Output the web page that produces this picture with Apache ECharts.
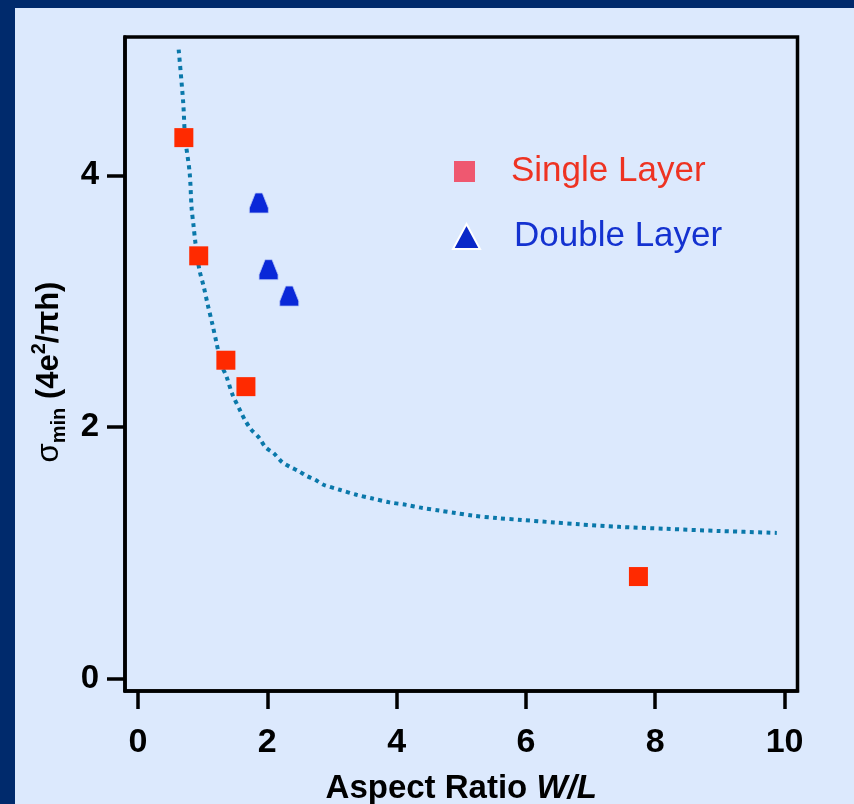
<!DOCTYPE html>
<html><head><meta charset="utf-8">
<script src="https://cdn.jsdelivr.net/npm/echarts@6/dist/echarts.min.js"></script>
<style>html,body{margin:0;padding:0;background:#dce9fd;} #c{width:854px;height:804px;}</style>
</head><body><div id="c"></div>
<script>
const singleX = [0.71, 0.94, 1.36, 1.67, 7.74];
const singleY = [4.30, 3.36, 2.53, 2.32, 0.81];
const doubleX = [1.87, 2.02, 2.34];
const doubleY = [3.78, 3.25, 3.04];
const fitX = [0.63,0.70,0.73,0.80,0.83,0.86,0.89,0.95,1.02,1.08,1.15,1.21,1.27,1.31,1.37,1.46,1.59,1.66,1.75,1.88,1.97,2.10,2.23,2.36,2.48,2.61,2.74,2.87,3.12,3.38,3.63,3.89,4.15,4.40,4.66,4.91,5.17,5.55,5.93,6.44,6.83,7.45,8.15,9.00,9.88];
const fitY = [5.00,4.58,4.30,4.02,3.74,3.60,3.46,3.25,3.11,2.97,2.82,2.68,2.54,2.47,2.40,2.26,2.12,2.05,1.98,1.91,1.84,1.79,1.72,1.68,1.65,1.61,1.58,1.54,1.50,1.46,1.43,1.40,1.38,1.355,1.335,1.315,1.295,1.275,1.26,1.24,1.225,1.205,1.19,1.172,1.157];
const xTicks = [0, 2, 4, 6, 8, 10];
const yTicks = [0, 2, 4];
const singleName = 'Single Layer';
const doubleName = 'Double Layer';

const FF = '"Liberation Sans", Arial, sans-serif';
const zip = (a, b) => a.map((v, i) => [v, b[i]]);
const chart = echarts.init(document.getElementById('c'), null, {renderer: 'canvas'});
chart.setOption({
  backgroundColor: '#dce9fd',
  animation: false,
  graphic: [
    {type: 'rect', left: 0, top: 0, shape: {width: 854, height: 8}, style: {fill: '#002a6c'}, silent: true},
    {type: 'rect', left: 0, top: 0, shape: {width: 15, height: 804}, style: {fill: '#002a6c'}, silent: true}
  ],
  grid: {left: 125, right: 56.5, top: 37, bottom: 113, outerBoundsMode: 'none', containLabel: false,
         show: true, borderColor: '#000', borderWidth: 3.5, backgroundColor: 'transparent'},
  xAxis: {
    type: 'value', min: -0.2, max: 10.2,
    axisLine: {show: true, onZero: false, lineStyle: {color: '#000', width: 3.5}},
    axisTick: {show: true, customValues: xTicks, length: 18, lineStyle: {color: '#000', width: 3.5}},
    axisLabel: {customValues: xTicks, margin: 35, fontSize: 34, fontWeight: 'bold', color: '#000', fontFamily: FF},
    splitLine: {show: false},
    name: '{b|Aspect Ratio }{i|W/L}', nameLocation: 'middle', nameGap: 81,
    nameTextStyle: {rich: {
      b: {fontSize: 33, fontWeight: 'bold', color: '#000', fontFamily: FF},
      i: {fontSize: 33, fontWeight: 'bold', fontStyle: 'italic', color: '#000', fontFamily: FF}
    }}
  },
  yAxis: {
    type: 'value', min: -0.1, max: 5.1,
    axisLine: {show: true, onZero: false, lineStyle: {color: '#000', width: 3.5}},
    axisTick: {show: true, customValues: yTicks, length: 18, lineStyle: {color: '#000', width: 3.5}},
    axisLabel: {customValues: yTicks, margin: 26, fontSize: 33, fontWeight: 'bold', color: '#000', fontFamily: FF},
    splitLine: {show: false},
    name: '{s|σ}{sub|min}{b| (4e}{sup|2}{b|/πh)}', nameLocation: 'middle', nameGap: 35,
    nameTextStyle: {padding: [0, 16, 0, 0], rich: {
      s: {fontSize: 31, color: '#000', fontFamily: FF, lineHeight: 40, verticalAlign: 'middle'},
      sub: {fontSize: 20, fontWeight: 'bold', color: '#000', fontFamily: FF, lineHeight: 20, verticalAlign: 'bottom'},
      b: {fontSize: 31, fontWeight: 'bold', color: '#000', fontFamily: FF, lineHeight: 40, verticalAlign: 'middle'},
      sup: {fontSize: 20, fontWeight: 'bold', color: '#000', fontFamily: FF, lineHeight: 20, verticalAlign: 'top'}
    }}
  },
  legend: [
    {data: [{name: singleName, icon: 'rect', itemStyle: {color: '#ef5870'}, textStyle: {color: '#ee3322'}}],
     left: 454, top: 154, orient: 'vertical', padding: 0, itemWidth: 21, itemHeight: 21, selectedMode: false,
     textStyle: {fontSize: 35, fontFamily: FF, padding: [0, 0, 0, 31]}},
    {data: [{name: doubleName, icon: 'triangle', itemStyle: {color: '#0a28c8', borderColor: '#ffffff', borderWidth: 2}, textStyle: {color: '#1432d0'}}],
     left: 452, top: 219, orient: 'vertical', padding: 0, itemWidth: 27, itemHeight: 25, selectedMode: false,
     textStyle: {fontSize: 35, fontFamily: FF, padding: [0, 0, 0, 29]}}
  ],
  series: [
    {type: 'line', name: 'fit', data: zip(fitX, fitY), symbol: 'none', smooth: 0.3, silent: true, z: 2,
     lineStyle: {color: '#0a78aa', width: 4, type: [4, 4.3], cap: 'butt'}},
    {type: 'scatter', name: singleName, data: zip(singleX, singleY), symbol: 'rect', symbolSize: 19, z: 3,
     itemStyle: {color: '#ff2a00', opacity: 1}},
    {type: 'scatter', name: doubleName, data: zip(doubleX, doubleY), symbol: 'path://M6,0 L13,0 L19,15 L19,20 L0,20 L0,15 Z', symbolSize: [19, 20], z: 3,
     itemStyle: {color: '#0a28d8', opacity: 1, borderColor: '#b8c8f8', borderWidth: 0.8}}
  ]
});
</script></body></html>
